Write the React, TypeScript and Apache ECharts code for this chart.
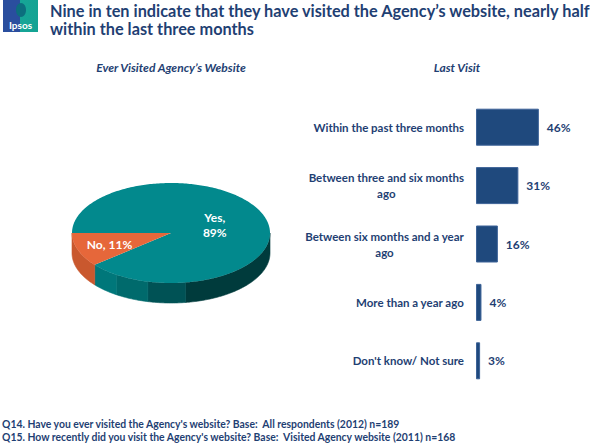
import React, { useEffect, useRef } from "react";
import * as echarts from "echarts";

const pieNames = ["Yes", "No"];
const pieValues = [89, 11];

const barCategories = [
  "Within the past three months",
  "Between three and six months\nago",
  "Between six months and a year\nago",
  "More than a year ago",
  "Don't know/ Not sure",
];
const barValues = [46, 31, 16, 4, 3];

const titleLines = [
  "Nine in ten indicate that they have visited the Agency\u2019s website, nearly half",
  "within the last three months",
];
const leftSubtitle = "Ever Visited Agency\u2019s Website";
const rightSubtitle = "Last Visit";
const footnotes = [
  "Q14. Have you ever visited the Agency's website? Base:  All respondents (2012) n=189",
  "Q15. How recently did you visit the Agency's website? Base:  Visited Agency website (2011) n=168",
];

const FONT = "Lato, 'Open Sans', sans-serif";
const NAVY = "#1F3F73";

export default function App() {
  const ref = useRef<HTMLDivElement>(null);
  useEffect(() => {
    const chart = echarts.init(ref.current!, null, { renderer: "svg" });
    const total = pieValues.reduce((a, b) => a + b, 0);
    const cx = 171, cy = 233, rx = 99, ry = 50, depth = 20, startDeg = 180;
    const topColors = ["#02898D", "#E6673A"];
    // side shading bands by horizontal position (0 = left edge, 1 = right edge)
    const sideBands = [
      [
        { to: 0.225, color: "#00777A" },
        { to: 0.385, color: "#006A6C" },
        { to: 0.575, color: "#005255" },
        { to: 1.01, color: "#003B3C" },
      ],
      [{ to: 1.01, color: "#C9582E" }],
    ];
    const pt = (deg: number, dy = 0) => {
      const r = (deg * Math.PI) / 180;
      return [cx + rx * Math.cos(r), cy + ry * Math.sin(r) + dy];
    };
    const arc = (a0: number, a1: number, dy = 0) => {
      const pts: number[][] = [];
      const n = Math.max(2, Math.ceil((a1 - a0) / 1));
      for (let i = 0; i <= n; i++) pts.push(pt(a0 + ((a1 - a0) * i) / n, dy));
      return pts;
    };
    const bandIndex = (deg: number, bands: any[]) => {
      const t = (Math.cos((deg * Math.PI) / 180) + 1) / 2;
      for (let i = 0; i < bands.length; i++) if (t < bands[i].to) return i;
      return bands.length - 1;
    };

    const renderPie = (params: any, api: any) => {
      const idx = params.dataIndex;
      let cum = 0;
      for (let i = 0; i < idx; i++) cum += pieValues[i];
      const v = api.value(1);
      const a0 = startDeg + (cum / total) * 360;
      const a1 = a0 + (v / total) * 360;
      const children: any[] = [];
      const bands = sideBands[idx];
      for (const k of [0, 360, 720]) {
        const s = Math.max(a0, k), e = Math.min(a1, k + 180);
        if (e - s > 0.01) {
          const step = 0.5;
          let segStart = s;
          let cur = bandIndex(s + 0.01, bands);
          let a = s;
          while (a < e) {
            a = Math.min(a + step, e);
            const b = bandIndex(a - 0.01, bands);
            const last = a >= e;
            if (b !== cur || last) {
              children.push({
                type: "polygon",
                shape: { points: arc(segStart, a).concat(arc(segStart, a, depth).reverse()) },
                style: { fill: bands[cur].color, stroke: bands[cur].color, lineWidth: 0.6 },
              });
              segStart = a;
              cur = b;
            }
          }
        }
      }
      children.push({
        type: "polygon",
        shape: { points: [[cx, cy]].concat(arc(a0, a1)) },
        style: { fill: topColors[idx] },
      });
      const mid = (a0 + a1) / 2;
      const f = v > 50 ? 0.47 : 0.66;
      const r = (mid * Math.PI) / 180;
      const name = pieNames[idx];
      children.push({
        type: "text",
        style: {
          text: v > 50 ? `${name},\n${v}%` : `${name}, ${v}%`,
          x: cx + rx * f * Math.cos(r),
          y: cy + ry * f * Math.sin(r),
          fill: "#FFFFFF",
          font: `bold 12px ${FONT}`,
          align: "center",
          verticalAlign: "middle",
          lineHeight: 15,
        },
      });
      return { type: "group", children };
    };

    const rich: any = { c: { align: "center", fontFamily: FONT, fontWeight: "bold", fontSize: 11.5, color: NAVY, lineHeight: 16 } };

    chart.setOption({
      animation: false,
      backgroundColor: "#FFFFFF",
      graphic: [
        {
          type: "rect",
          shape: { x: 3, y: 0, width: 35, height: 32 },
          style: {
            fill: new echarts.graphic.LinearGradient(0, 0, 1, 0, [
              { offset: 0, color: "#2A4E9E" },
              { offset: 0.5, color: "#2A4E9E" },
              { offset: 0.5, color: "#16A597" },
              { offset: 1, color: "#14A393" },
            ]),
          },
        },
        {
          type: "ellipse",
          shape: { cx: 21, cy: 10, rx: 5, ry: 7 },
          style: { fill: "#0C6E7E" },
        },
        {
          type: "text",
          style: { text: "Ipsos", x: 20.5, y: 25, align: "center", verticalAlign: "middle", fill: "#FFFFFF", font: `bold 10px ${FONT}` },
        },
        {
          type: "text",
          style: { text: titleLines.join("\n"), x: 50, y: 1, fill: NAVY, font: `bold 16.3px ${FONT}`, lineHeight: 18 },
        },
        {
          type: "text",
          style: { text: leftSubtitle, x: 171, y: 67, align: "center", verticalAlign: "middle", fill: NAVY, font: `italic bold 12px ${FONT}` },
        },
        {
          type: "text",
          style: { text: rightSubtitle, x: 457, y: 67, align: "center", verticalAlign: "middle", fill: NAVY, font: `italic bold 12px ${FONT}` },
        },
        {
          type: "text",
          style: { text: footnotes.join("\n"), x: 2, y: 417, fill: NAVY, font: `bold 10.4px ${FONT}`, lineHeight: 13 },
        },
      ],
      grid: { left: 476, top: 98, height: 292, right: 32 },
      xAxis: { type: "value", min: 0, max: 60, show: false },
      yAxis: {
        type: "category",
        inverse: true,
        data: barCategories,
        axisLine: { show: false },
        axisTick: { show: false },
        axisLabel: {
          margin: 12,
          formatter: (v: string) => v.split("\n").map((l) => `{c|${l}}`).join("\n"),
          rich,
        },
      },
      series: [
        {
          type: "custom",
          coordinateSystem: "none",
          renderItem: renderPie,
          data: pieNames.map((n, i) => [i, pieValues[i]]),
          silent: true,
        },
        {
          type: "bar",
          data: barValues,
          barWidth: 37,
          itemStyle: { color: "#1F497D", borderColor: "#3D6398", borderWidth: 1 },
          label: {
            show: true,
            position: "right",
            distance: 8,
            formatter: "{c}%",
            fontFamily: FONT,
            fontWeight: "bold",
            fontSize: 12,
            color: NAVY,
          },
        },
      ],
    });
    return () => chart.dispose();
  }, []);
  return <div ref={ref} style={{ position: "fixed", left: 0, top: 0, width: 590, height: 448 }} />;
}
